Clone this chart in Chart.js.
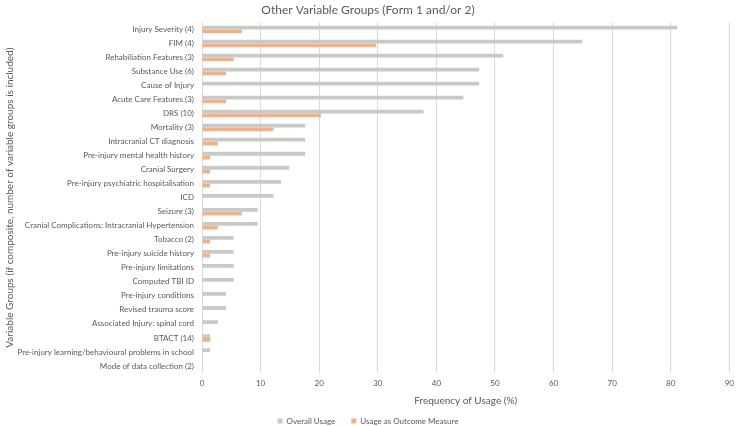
<!DOCTYPE html>
<html>
<head>
<meta charset="utf-8">
<script src="https://cdn.jsdelivr.net/npm/chart.js@4"></script>
<style>
  html, body { margin: 0; padding: 0; background: #fff; }
  #wrap { width: 740px; height: 426px; }
</style>
</head>
<body>
<div id="wrap"><canvas id="chart"></canvas></div>
<script>
const categories = [
  'Injury Severity (4)',
  'FIM (4)',
  'Rehabiliation Features (3)',
  'Substance Use (6)',
  'Cause of Injury',
  'Acute Care Features (3)',
  'DRS (10)',
  'Mortality (3)',
  'Intracranial CT diagnosis',
  'Pre-injury mental health history',
  'Cranial Surgery',
  'Pre-injury psychiatric hospitalisation',
  'ICD',
  'Seizure (3)',
  'Cranial Complications: Intracranial Hypertension',
  'Tobacco (2)',
  'Pre-injury suicide history',
  'Pre-injury limitations',
  'Computed TBI ID',
  'Pre-injury conditions',
  'Revised trauma score',
  'Associated Injury: spinal cord',
  'BTACT (14)',
  'Pre-injury learning/behavioural problems in school',
  'Mode of data collection (2)'
];
const overallUsage = [81.1, 64.9, 51.4, 47.3, 47.3, 44.6, 37.8, 17.6, 17.6, 17.6, 14.9, 13.5, 12.2, 9.5, 9.5, 5.4, 5.4, 5.4, 5.4, 4.1, 4.1, 2.7, 1.4, 1.4, 0];
const outcomeUsage = [6.8, 29.7, 5.4, 4.1, 0, 4.1, 20.3, 12.2, 2.7, 1.4, 1.4, 1.4, 0, 6.8, 2.7, 1.4, 1.4, 0, 0, 0, 0, 0, 1.4, 0, 0];
const xTicks = [0, 10, 20, 30, 40, 50, 60, 70, 80, 90];

const GRAY = '#c9c9c9';
const ORANGE = '#f4b183';
const TEXT = '#595959';
const FONT = "Lato, 'Liberation Sans', sans-serif";

new Chart(document.getElementById('chart'), {
  type: 'bar',
  data: {
    labels: categories,
    datasets: [
      { label: 'Overall Usage', data: overallUsage, backgroundColor: GRAY },
      { label: 'Usage as Outcome Measure', data: outcomeUsage, backgroundColor: ORANGE }
    ]
  },
  options: {
    indexAxis: 'y',
    responsive: true,
    maintainAspectRatio: false,
    animation: false,
    layout: { padding: { left: 2, right: 6, top: 2, bottom: -9 } },
    datasets: { bar: { categoryPercentage: 0.54, barPercentage: 1 } },
    plugins: {
      title: {
        display: true,
        text: 'Other Variable Groups (Form 1 and/or 2)',
        color: TEXT,
        font: { family: FONT, size: 12, weight: 'normal' },
        padding: { top: 1, bottom: 5 }
      },
      legend: {
        position: 'bottom',
        labels: {
          color: TEXT,
          font: { family: FONT, size: 8 },
          boxWidth: 5,
          boxHeight: 5,
          padding: 16
        }
      },
      tooltip: { enabled: false }
    },
    scales: {
      x: {
        min: 0,
        max: 90,
        afterBuildTicks: (s) => { s.ticks = xTicks.map((v) => ({ value: v })); },
        afterFit: (s) => { s.height = 28; },
        ticks: { color: TEXT, font: { family: FONT, size: 8 }, padding: 6 },
        grid: { color: '#d9d9d9', drawTicks: false },
        border: { display: false },
        title: {
          display: true,
          text: 'Frequency of Usage (%)',
          color: TEXT,
          font: { family: FONT, size: 10 },
          padding: { top: 4, bottom: -6 }
        }
      },
      y: {
        afterFit: (s) => { s.width = 200; },
        ticks: { color: TEXT, font: { family: FONT, size: 8 }, padding: 8, autoSkip: false },
        grid: { display: false, drawTicks: false },
        border: { display: false },
        title: {
          display: true,
          text: 'Variable Groups (if composite, number of variable groups is included)',
          color: TEXT,
          font: { family: FONT, size: 10 },
          padding: { top: 2, bottom: 0 }
        }
      }
    }
  }
});
</script>
</body>
</html>
